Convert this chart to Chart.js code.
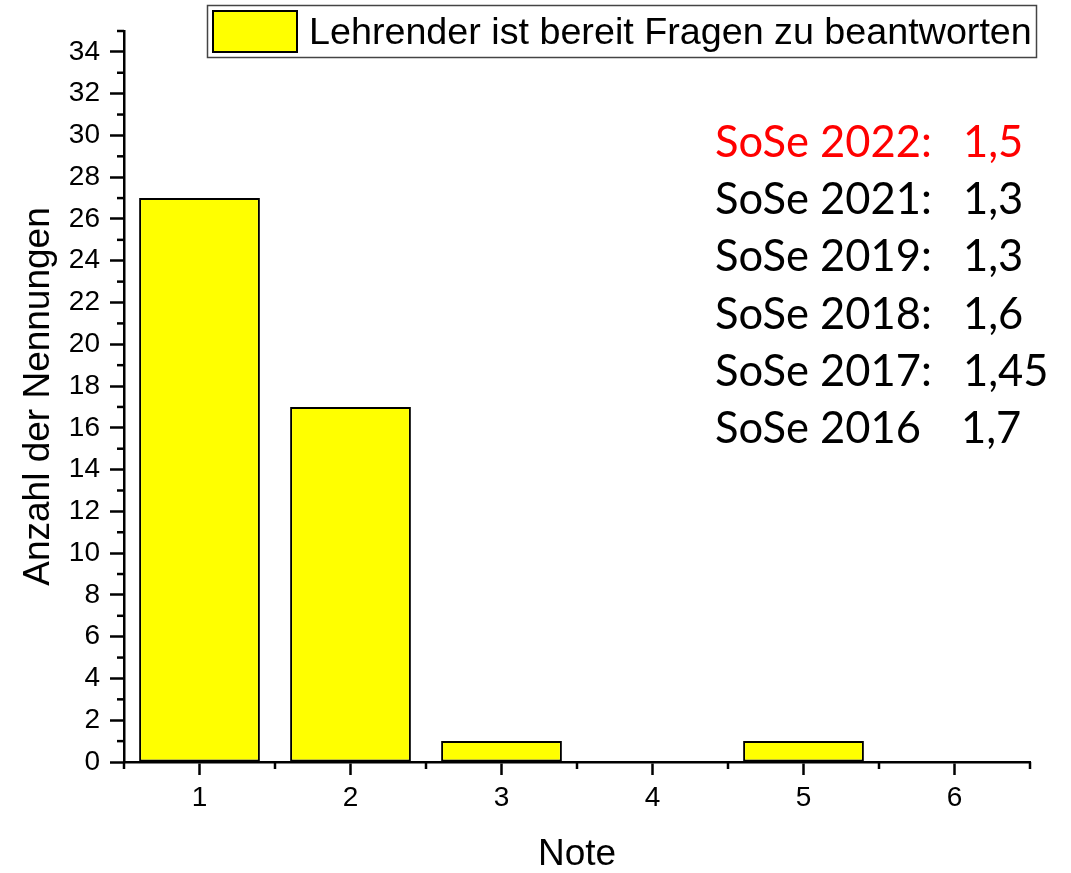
<!DOCTYPE html>
<html><head><meta charset="utf-8">
<script src="https://cdn.jsdelivr.net/npm/chart.js@4"></script>
<style>html,body{margin:0;padding:0;background:#fff}canvas{display:block}</style>
</head><body>
<canvas id="c" width="1071" height="873"></canvas>
<script>
const categories = ['1','2','3','4','5','6'];
const counts = [27, 17, 1, 0, 1, 0];
const seriesLabel = 'Lehrender ist bereit Fragen zu beantworten';
const yMin = 0, yMax = 35;
const semesterLabels = ['SoSe 2022:', 'SoSe 2021:', 'SoSe 2019:', 'SoSe 2018:', 'SoSe 2017:', 'SoSe 2016'];
const semesterGrades = ['1,5', '1,3', '1,3', '1,6', '1,45', '1,7'];
const semesterColors = ['#FF0000', '#000000', '#000000', '#000000', '#000000', '#000000'];

const ARIAL = '"Liberation Sans", Arial, sans-serif';
const NOTE_FONT = 'Lato, "Open Sans", sans-serif';

const minorTicks = {
  id: 'minorTicks',
  afterDraw(chart) {
    const ctx = chart.ctx, x = chart.scales.x, y = chart.scales.y;
    ctx.save();
    ctx.strokeStyle = '#000';
    ctx.lineWidth = 2.5;
    const step = x.getPixelForValue(1) - x.getPixelForValue(0);
    for (let i = 0; i <= categories.length; i++) {
      const px = x.getPixelForValue(0) - step / 2 + i * step;
      ctx.beginPath(); ctx.moveTo(px, x.top); ctx.lineTo(px, x.top + 7); ctx.stroke();
    }
    for (let v = yMin + 1; v <= yMax; v += 2) {
      const py = y.getPixelForValue(v);
      ctx.beginPath(); ctx.moveTo(y.right, py); ctx.lineTo(y.right - 7, py); ctx.stroke();
    }
    ctx.restore();
  }
};

const legendBox = {
  id: 'legendBox',
  afterDraw(chart) {
    const ctx = chart.ctx;
    ctx.save();
    ctx.strokeStyle = '#444';
    ctx.lineWidth = 1.5;
    ctx.strokeRect(207.5, 5.5, 829, 52);
    ctx.fillStyle = '#FFFF00';
    ctx.fillRect(213, 11, 84, 41);
    ctx.strokeStyle = '#000';
    ctx.lineWidth = 2;
    ctx.strokeRect(213, 11, 84, 41);
    ctx.fillStyle = '#000';
    ctx.font = '37.7px ' + ARIAL;
    ctx.textBaseline = 'alphabetic';
    ctx.fillText(seriesLabel, 309, 44);
    ctx.restore();
  }
};

const notes = {
  id: 'notes',
  afterDraw(chart) {
    const ctx = chart.ctx;
    const baselines = [157, 214, 271, 329, 386, 443];
    ctx.save();
    ctx.font = '43.5px ' + NOTE_FONT;
    ctx.textBaseline = 'alphabetic';
    semesterLabels.forEach((t, i) => {
      ctx.fillStyle = semesterColors[i];
      ctx.fillText(t, 715, baselines[i]);
      ctx.fillText(semesterGrades[i], i === 5 ? 961 : 963, baselines[i]);
    });
    ctx.restore();
  }
};

new Chart(document.getElementById('c'), {
  type: 'bar',
  data: {
    labels: categories,
    datasets: [{
      label: seriesLabel,
      data: counts,
      backgroundColor: '#FFFF00',
      borderColor: '#000000',
      borderWidth: 2,
      borderSkipped: false,
      barPercentage: 0.8,
      categoryPercentage: 1.0
    }]
  },
  options: {
    responsive: false,
    animation: false,
    events: [],
    layout: { padding: { top: 31, right: 41, left: 0, bottom: 0 } },
    plugins: { legend: { display: false }, tooltip: { enabled: false } },
    scales: {
      x: {
        type: 'category',
        offset: true,
        afterFit(s) { s.height = 111; },
        grid: { display: true, offset: false, drawOnChartArea: false, tickLength: 13, tickWidth: 2.5, tickColor: '#000' },
        border: { display: true, color: '#000', width: 2.5 },
        ticks: { color: '#000', font: { family: ARIAL, size: 28 }, padding: 6, maxRotation: 0, autoSkip: false },
        title: { display: true, text: 'Note', color: '#000', font: { family: ARIAL, size: 37, lineHeight: 1 }, padding: { top: 0, bottom: 0 } }
      },
      y: {
        type: 'linear',
        min: yMin,
        max: yMax,
        afterFit(s) { s.width = 124; },
        grid: {
          display: true, drawOnChartArea: false, tickLength: 14, tickWidth: 2.5,
          tickColor: (c) => (c.tick && c.tick.value % 2 === 0) ? '#000' : 'rgba(0,0,0,0)'
        },
        border: { display: true, color: '#000', width: 2.5 },
        ticks: {
          stepSize: 1, autoSkip: false, color: '#000', padding: 10,
          font: { family: ARIAL, size: 28 },
          callback: (v) => (v % 2 === 0 ? String(v) : '')
        },
        title: { display: true, text: 'Anzahl der Nennungen', color: '#000', font: { family: ARIAL, size: 37, lineHeight: 1 }, padding: { top: 20, bottom: 0 } }
      }
    }
  },
  plugins: [minorTicks, legendBox, notes]
});
</script>
</body></html>
